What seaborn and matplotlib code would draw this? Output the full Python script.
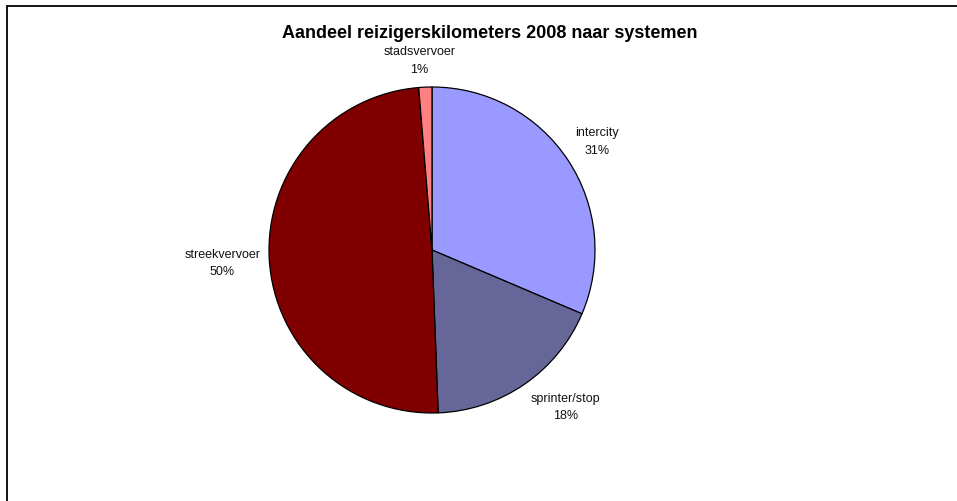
import matplotlib
matplotlib.use("Agg")
import matplotlib.pyplot as plt
import seaborn as sns
import numpy as np
from matplotlib.patches import Rectangle

# Share of passenger-kilometres 2008 per system (percent)
categories = ["intercity", "sprinter/stop", "streekvervoer", "stadsvervoer"]
shares = [31.4, 18.0, 49.3, 1.3]
share_labels = ["31%", "18%", "50%", "1%"]
colors = ["#9999FF", "#666699", "#800000", "#FF8080"]

# label offsets (pixels) from the rim point at each slice's mid-angle
label_offsets = [(29, 18), (41, -23), (-47, -4), (-6, 26)]

sns.set_theme(style="white")
plt.rcParams["font.family"] = ["Liberation Sans", "DejaVu Sans"]

W, H = 957, 501
fig = plt.figure(figsize=(W / 100, H / 100), dpi=100)

cx, cy, r = 432, 250, 163
ax = fig.add_axes([(cx - r) / W, (H - cy - r) / H, 2 * r / W, 2 * r / H])

wedges, _ = ax.pie(
    shares,
    colors=colors,
    startangle=90,
    counterclock=False,
    radius=1.0,
    wedgeprops=dict(edgecolor="black", linewidth=0.9),
)
ax.set_xlim(-1, 1)
ax.set_ylim(-1, 1)
ax.set_aspect("equal")
ax.axis("off")

for w, name, pct, off in zip(wedges, categories, share_labels, label_offsets):
    ang = np.deg2rad((w.theta1 + w.theta2) / 2)
    ax.annotate(f"{name}\n{pct}", xy=(np.cos(ang), np.sin(ang)),
                xytext=off, textcoords="offset pixels",
                ha="center", va="center", fontsize=9, color="#111111",
                linespacing=1.6, annotation_clip=False)

fig.text(490 / W, 1 - 33 / H, "Aandeel reizigerskilometers 2008 naar systemen",
         ha="center", va="center", fontsize=13, fontweight="bold", color="black")

# chart frame
frame = Rectangle((7 / W, -0.1), 1.2, 1.1 - 6 / H, transform=fig.transFigure,
                  fill=False, edgecolor="black", linewidth=1.3, clip_on=False)
fig.patches.append(frame)

fig.savefig("out.png", dpi=100, facecolor="white")
